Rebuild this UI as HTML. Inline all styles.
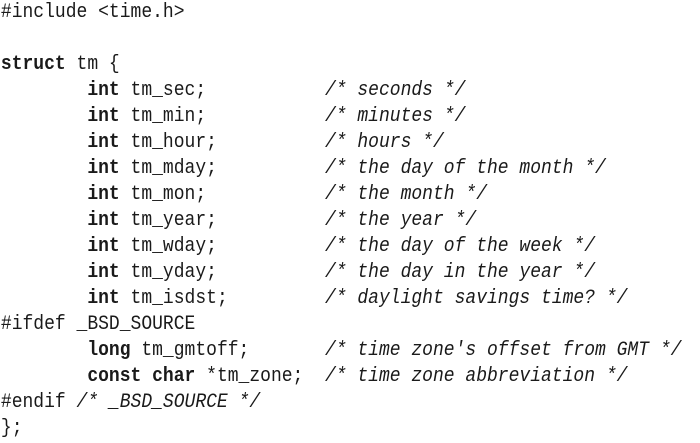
<!DOCTYPE html>
<html><head><meta charset="utf-8"><style>
html,body{margin:0;padding:0;background:#fff;width:700px;height:443px;overflow:hidden}
pre{margin:0;padding:0 0 0 1px;font-family:"Liberation Mono",monospace;font-size:20px;line-height:26px;color:#1a1a1a;transform:scaleX(0.9);transform-origin:0 0;width:780px}
b{font-weight:bold}
i{font-style:italic}
</style></head><body><pre>#include &lt;time.h&gt;

<b>struct</b> tm {
        <b>int</b> tm_sec;           <i>/* seconds */</i>
        <b>int</b> tm_min;           <i>/* minutes */</i>
        <b>int</b> tm_hour;          <i>/* hours */</i>
        <b>int</b> tm_mday;          <i>/* the day of the month */</i>
        <b>int</b> tm_mon;           <i>/* the month */</i>
        <b>int</b> tm_year;          <i>/* the year */</i>
        <b>int</b> tm_wday;          <i>/* the day of the week */</i>
        <b>int</b> tm_yday;          <i>/* the day in the year */</i>
        <b>int</b> tm_isdst;         <i>/* daylight savings time? */</i>
#ifdef _BSD_SOURCE
        <b>long</b> tm_gmtoff;       <i>/* time zone's offset from GMT */</i>
        <b>const char</b> *tm_zone;  <i>/* time zone abbreviation */</i>
#endif <i>/* _BSD_SOURCE */</i>
};</pre></body></html>
